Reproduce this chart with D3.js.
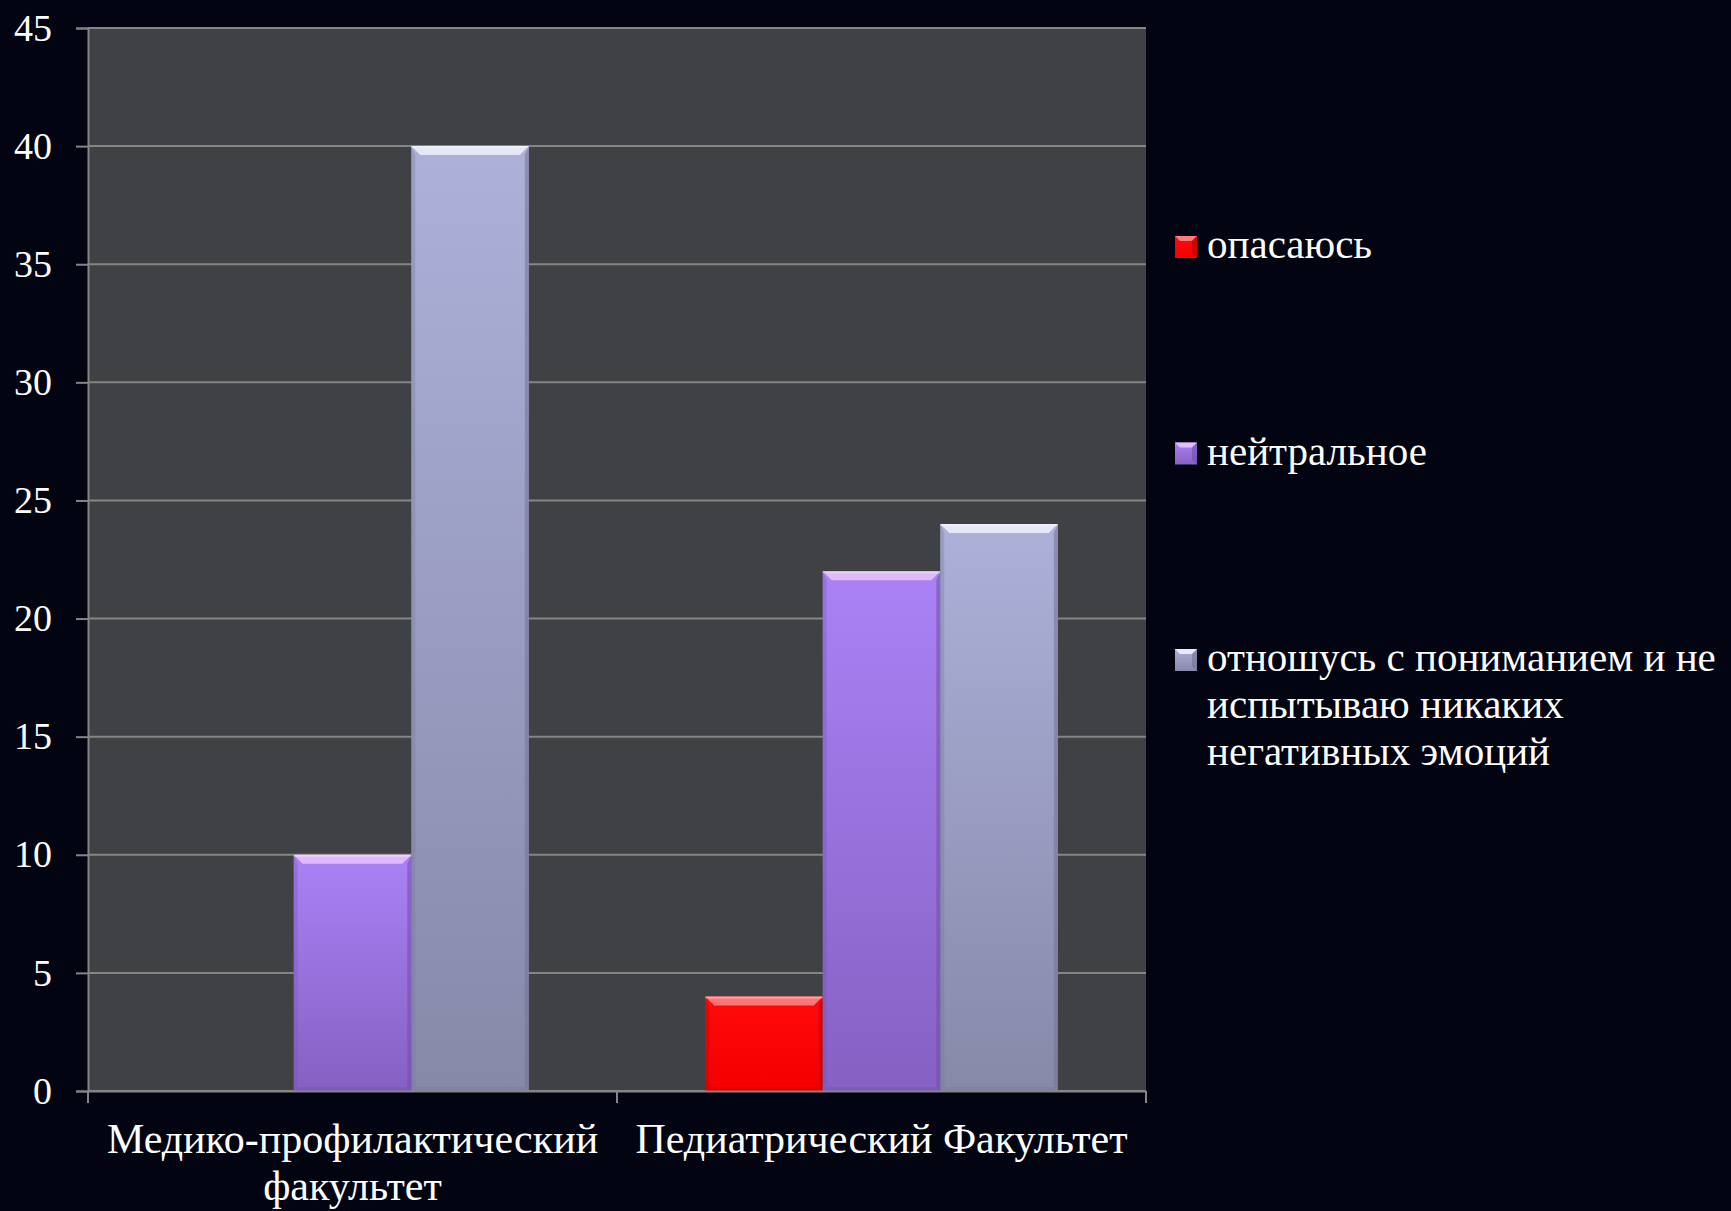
<!DOCTYPE html>
<html>
<head>
<meta charset="utf-8">
<script src="https://cdn.jsdelivr.net/npm/d3@7"></script>
<style>
  html, body { margin: 0; padding: 0; background: #020412; }
  svg { display: block; }
</style>
</head>
<body>
<svg id="chart" width="1731" height="1211"></svg>
<script>
// Faculties along the x axis
const categories = ["Медико-профилактический факультет", "Педиатрический Факультет"];
// Answer options (series)
const seriesNames = ["опасаюсь", "нейтральное", "отношусь с пониманием и не испытываю никаких негативных эмоций"];
// Values per series, one per faculty
const fearValues = [0, 4];
const neutralValues = [10, 22];
const understandingValues = [40, 24];
const yTicks = [0, 5, 10, 15, 20, 25, 30, 35, 40, 45];

const seriesValues = [fearValues, neutralValues, understandingValues];
const palette = [
  { top: "#ff0a0a", bottom: "#f50000", hi: "#ff9090", side: "#b00000" },
  { top: "#ab82f6", bottom: "#8660c2", hi: "#efc8ff", side: "#6f4eaa" },
  { top: "#adb0d9", bottom: "#8789a9", hi: "#f4f5ff", side: "#727494" }
];

const svg = d3.select("#chart");
const margin = { left: 88, top: 28, right: 1731 - 1146, bottom: 1211 - 1091 };
const W = 1731, H = 1211;
const plotW = W - margin.left - margin.right;
const plotH = H - margin.top - margin.bottom;
const serif = "'Liberation Serif', 'DejaVu Serif', serif";

const defs = svg.append("defs");
palette.forEach((p, i) => {
  const g = defs.append("linearGradient").attr("id", "grad" + i)
    .attr("x1", 0).attr("y1", 0).attr("x2", 0).attr("y2", 1);
  g.append("stop").attr("offset", "0%").attr("stop-color", p.top);
  g.append("stop").attr("offset", "100%").attr("stop-color", p.bottom);
});

const x0 = d3.scaleBand().domain(categories).range([0, plotW]).paddingInner(0).paddingOuter(0);
// gap width ~150% of a bar: 3 bars + 1.5 bar gap per category
const barW = x0.bandwidth() / 4.5;
const x1 = d3.scaleBand().domain(d3.range(seriesNames.length))
  .range([barW * 0.75, barW * 0.75 + barW * 3]);
const y = d3.scaleLinear().domain([0, 45]).range([plotH, 0]);

const g = svg.append("g").attr("transform", `translate(${margin.left},${margin.top})`);

// plot area background
g.append("rect").attr("x", 0).attr("y", 0).attr("width", plotW).attr("height", plotH)
  .attr("fill", "#404145");

// horizontal gridlines
g.append("g").selectAll("line").data(yTicks).join("line")
  .attr("x1", 0).attr("x2", plotW)
  .attr("y1", d => y(d)).attr("y2", d => y(d))
  .attr("stroke", "#858585").attr("stroke-width", 2);

// bars with a bevelled look
const bars = [];
categories.forEach((c, ci) => {
  seriesValues.forEach((vals, si) => {
    bars.push({ c, si, v: vals[ci] });
  });
});

const barG = g.append("g");
bars.filter(d => d.v > 0).forEach(d => {
  const bx = x0(d.c) + x1(d.si);
  const by = y(d.v);
  const bh = y(0) - by;
  const w = x1.bandwidth();
  const p = palette[d.si];
  const b = 9, s = 4;
  const bg = barG.append("g");
  bg.append("rect").attr("x", bx).attr("y", by).attr("width", w).attr("height", bh)
    .attr("fill", `url(#grad${d.si})`);
  // left and right darker edges
  bg.append("polygon")
    .attr("points", [[bx, by], [bx + s, by + b], [bx + s, by + bh - s], [bx, by + bh]].join(" "))
    .attr("fill", p.side).attr("opacity", 0.3);
  bg.append("polygon")
    .attr("points", [[bx + w, by], [bx + w - s, by + b], [bx + w - s, by + bh - s], [bx + w, by + bh]].join(" "))
    .attr("fill", p.side).attr("opacity", 0.55);
  bg.append("polygon")
    .attr("points", [[bx, by + bh], [bx + s, by + bh - s], [bx + w - s, by + bh - s], [bx + w, by + bh]].join(" "))
    .attr("fill", p.side).attr("opacity", 0.3);
  // highlighted top facet
  bg.append("polygon")
    .attr("points", [[bx, by], [bx + w, by], [bx + w - b, by + b], [bx + b, by + b]].join(" "))
    .attr("fill", p.hi).attr("opacity", 0.8);
  bg.append("rect").attr("x", bx).attr("y", by).attr("width", w).attr("height", 2)
    .attr("fill", "#ffffff").attr("opacity", 0.35);
});

// axes
const yAxis = d3.axisLeft(y).tickValues(yTicks).tickSize(12).tickPadding(24);
const yg = g.append("g").call(yAxis);
yg.select(".domain").attr("stroke", "#858585").attr("stroke-width", 2);
yg.selectAll(".tick line").attr("stroke", "#858585").attr("stroke-width", 2);
yg.selectAll(".tick text")
  .attr("fill", "#ffffff")
  .attr("font-family", serif)
  .attr("font-size", 38);

const xAxis = d3.axisBottom(x0).tickValues([]).tickSizeOuter(0);
const xg = g.append("g").attr("transform", `translate(0,${plotH})`).call(xAxis);
xg.select(".domain").attr("stroke", "#858585").attr("stroke-width", 2);
// category boundary ticks
xg.selectAll("line.sep").data([0, plotW / 2, plotW]).join("line")
  .attr("class", "sep")
  .attr("x1", d => d).attr("x2", d => d).attr("y1", 0).attr("y2", 12)
  .attr("stroke", "#858585").attr("stroke-width", 2);

// category labels
const labelLines = [["Медико-профилактический", "факультет"], ["Педиатрический Факультет"]];
categories.forEach((c, i) => {
  const t = xg.append("text")
    .attr("x", x0(c) + x0.bandwidth() / 2)
    .attr("y", 62)
    .attr("text-anchor", "middle")
    .attr("fill", "#ffffff")
    .attr("font-family", serif)
    .attr("font-size", 42);
  labelLines[i].forEach((ln, li) => {
    t.append("tspan").attr("x", x0(c) + x0.bandwidth() / 2).attr("dy", li === 0 ? 0 : 47).text(ln);
  });
});

// legend
const legendLines = [["опасаюсь"], ["нейтральное"], ["отношусь с пониманием и не", "испытываю никаких", "негативных эмоций"]];
const lg = svg.append("g").attr("transform", "translate(1175,236)");
seriesNames.forEach((s, i) => {
  const item = lg.append("g").attr("transform", `translate(0,${i * 206.5})`);
  const p = palette[i];
  const sz = 22, b = 5;
  item.append("rect").attr("width", sz).attr("height", sz).attr("fill", `url(#grad${i})`);
  item.append("polygon").attr("points", [[0, 0], [sz, 0], [sz - b, b], [b, b]].join(" "))
    .attr("fill", p.hi).attr("opacity", 0.85);
  item.append("polygon").attr("points", [[sz, 0], [sz, sz], [sz - b, sz - b], [sz - b, b]].join(" "))
    .attr("fill", p.side).attr("opacity", 0.6);
  const t = item.append("text")
    .attr("x", 32).attr("y", 22)
    .attr("fill", "#ffffff")
    .attr("font-family", serif)
    .attr("font-size", 41);
  legendLines[i].forEach((ln, li) => {
    t.append("tspan").attr("x", 32).attr("dy", li === 0 ? 0 : 47).text(ln);
  });
});
</script>
</body>
</html>
